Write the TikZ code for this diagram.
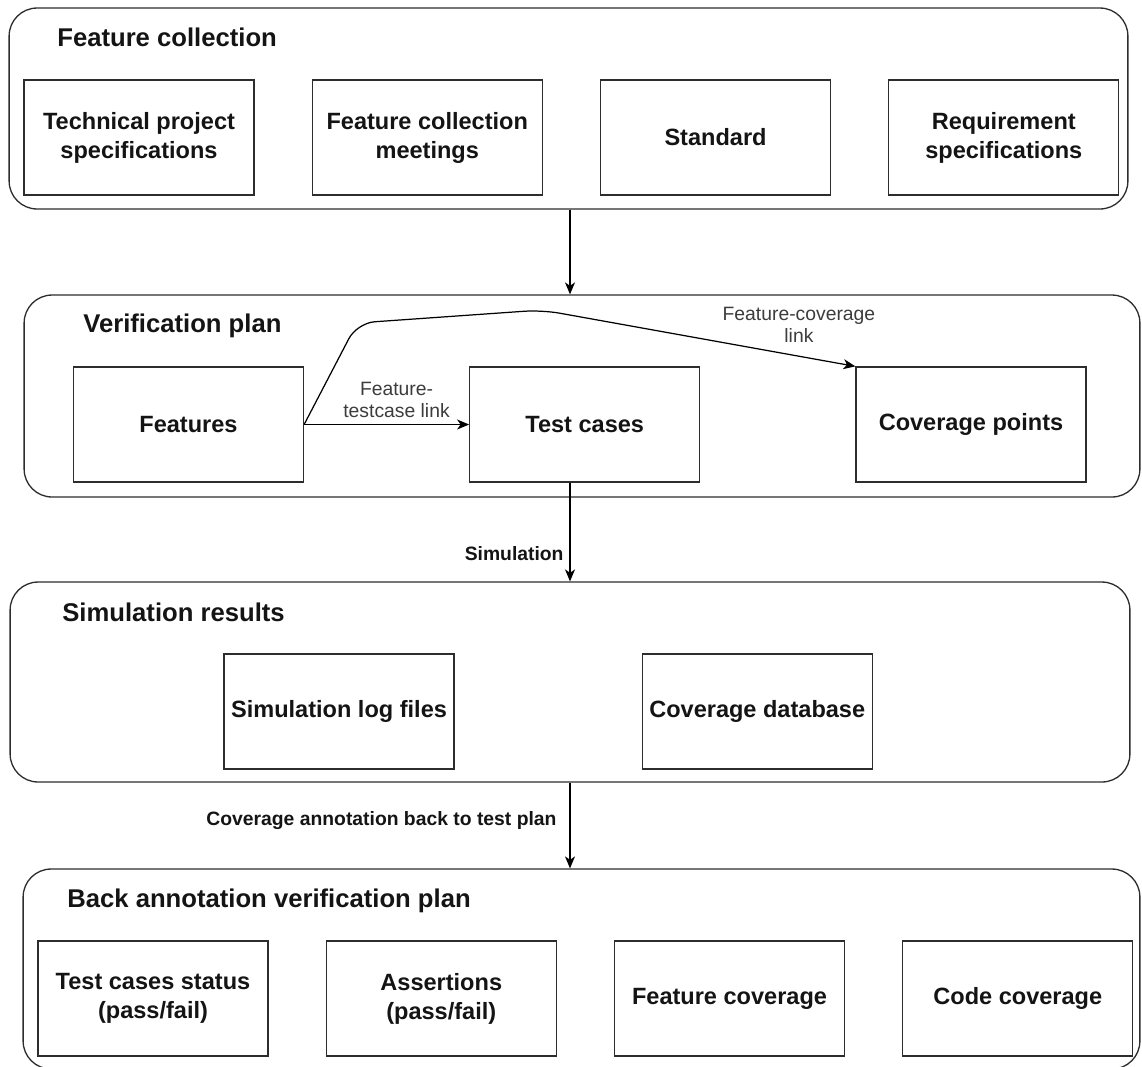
\documentclass[tikz,border=0pt]{standalone}
\usepackage{fontspec}
\setmainfont{Liberation Sans}
\usepackage{xcolor}
\usepackage{tikz}
\usetikzlibrary{arrows.meta,positioning}
\definecolor{planline}{RGB}{45,45,45}
\definecolor{plantext}{RGB}{20,20,20}
\definecolor{linkgray}{RGB}{60,60,60}
\tikzset{
  planpanel/.style={
    rectangle,
    rounded corners=0.56cm,
    draw=planline,
    line width=0.75pt,
    minimum width=22.36cm,
    minimum height=4.02cm,
    inner sep=0pt
  },
  plantitle/.style={
    anchor=base west,
    inner sep=0pt,
    text=plantext,
    font=\fontsize{14.6}{17}\selectfont\bfseries
  },
  planitem/.style={
    rectangle,
    draw=planline,
    line width=0.75pt,
    align=center,
    minimum width=4.6cm,
    minimum height=2.3cm,
    inner sep=2pt,
    text=plantext,
    font=\fontsize{13.4}{16.5}\selectfont\bfseries
  },
  planarrow/.style={
    -{Stealth[length=2.4mm,width=2mm,inset=0.7mm]},
    line width=0.7pt,
    draw=black
  },
  linklabel/.style={
    align=center,
    text=linkgray,
    font=\fontsize{11}{12.5}\selectfont
  },
  steplabel/.style={
    text=plantext,
    font=\fontsize{11}{12.5}\selectfont\bfseries
  }
}

\begin{document}
\begin{tikzpicture}[x=0.02cm, y=-0.02cm, node distance=1.14cm]
\useasboundingbox (0,0) rectangle (1142,1066);
\coordinate (spine) at (570,0);

\node[planpanel, minimum width=22.38cm] (collect) at (568.5,108.5) {};
\node[plantitle] (collecttitle) at (57,46) {Feature collection};
\node[planitem] (techspec) at (139,137.5) {Technical project\\specifications};
\node[planitem, right=of techspec] (meetings) {Feature collection\\meetings};
\node[planitem, right=of meetings] (standard) {Standard};
\node[planitem, right=of standard] (reqspec) {Requirement\\specifications};

\node[planpanel, minimum width=22.32cm, minimum height=4.04cm] (verify) at (582,396) {};
\node[plantitle] (verifytitle) at (83,332) {Verification plan};
\node[planitem] (features) at (188.5,424.5) {Features};
\node[planitem, right=3.3cm of features] (testcases) {Test cases};
\node[planitem, right=3.1cm of testcases] (covpoints) {Coverage points};

\node[planpanel, minimum width=22.4cm, minimum height=4.0cm] (results) at (570,682) {};
\node[plantitle] (resultstitle) at (62,621) {Simulation results};
\node[planitem] (simlogs) at (339,711.5) {Simulation log files};
\node[planitem, right=3.74cm of simlogs] (covdb) {Coverage database};

\node[planpanel, minimum width=22.34cm, minimum height=4.0cm] (backplan) at (581.5,969) {};
\node[plantitle] (backplantitle) at (67,907) {Back annotation verification plan};
\node[planitem] (tcstatus) at (153,998.5) {Test cases status\\(pass/fail)};
\node[planitem, right=of tcstatus] (assertions) {Assertions\\(pass/fail)};
\node[planitem, right=of assertions] (featcov) {Feature coverage};
\node[planitem, right=of featcov] (codecov) {Code coverage};

\draw[planarrow] (collect.south -| spine) -- (verify.north -| spine);
\draw[planarrow] (features) -- node[linklabel, above, pos=0.56] {Feature-\\testcase link} (testcases);
\draw[planarrow, rounded corners=10pt] (features.east) -- (357,323) -- (542,310) -- node[linklabel, above=4pt, pos=0.82] {Feature-coverage\\link} (covpoints.north west);
\draw[planarrow] (testcases.south -| spine) -- node[steplabel, left, pos=0.72] {Simulation} (results.north -| spine);
\draw[planarrow] (results.south -| spine) -- node[steplabel, left=4pt, pos=0.44] {Coverage annotation back to test plan} (backplan.north -| spine);
\end{tikzpicture}
\end{document}
